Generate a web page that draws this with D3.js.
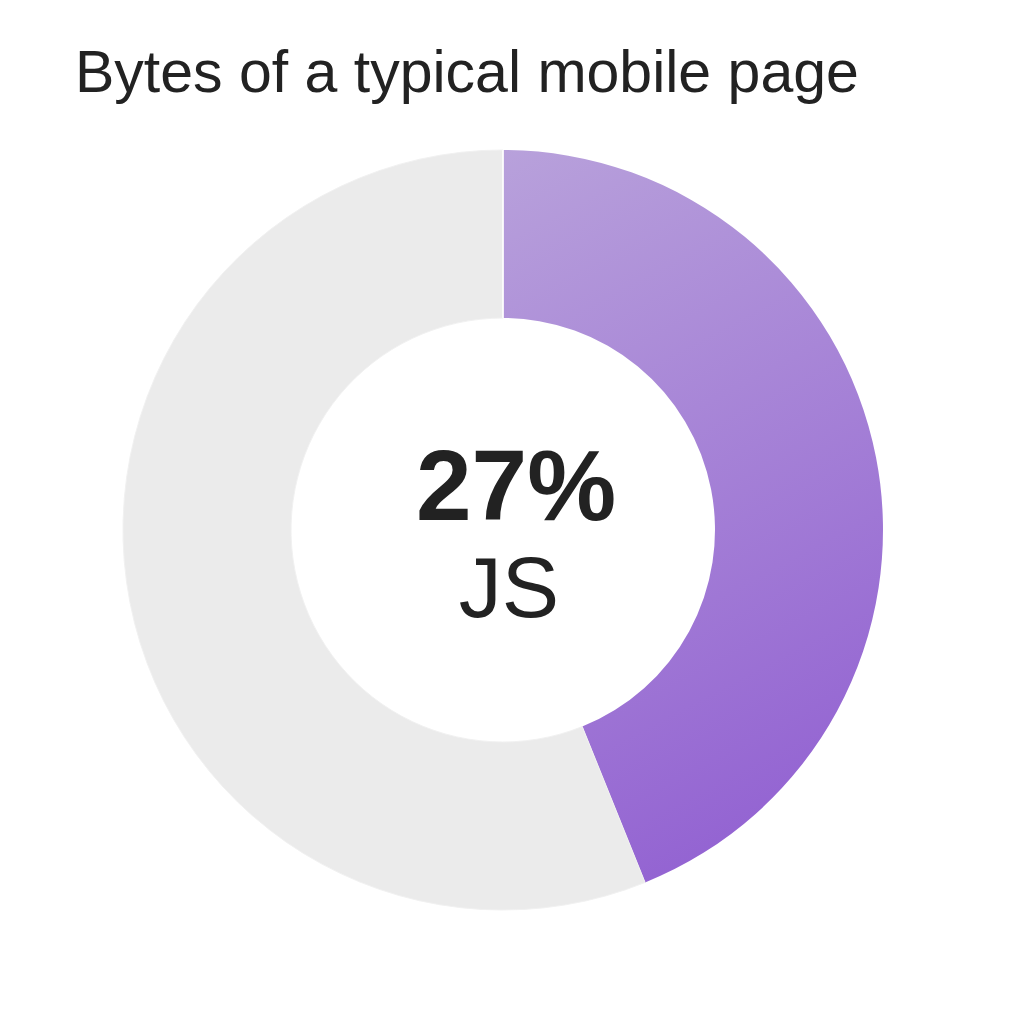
<!DOCTYPE html>
<html>
<head>
<meta charset="utf-8">
<script src="https://cdn.jsdelivr.net/npm/d3@7"></script>
<style>
  body { margin: 0; background: #fff; }
</style>
</head>
<body>
<script>
const W = 1024
const H = 1024

// data
const labels = ['JS', 'Other']
const shares = [43.9, 56.1]
const title = 'Bytes of a typical mobile page'
const bigLabel = '27%'
const subLabel = 'JS'

const cx = 503
const cy = 530
const outerR = 380
const innerR = 212

const svg = d3.select('body').append('svg')
  .attr('width', W)
  .attr('height', H)
  .style('font-family', '"Liberation Sans", Arial, sans-serif')

// gradient in the donut group's local coordinates
const defs = svg.append('defs')
const grad = defs.append('linearGradient')
  .attr('id', 'jsGrad')
  .attr('gradientUnits', 'userSpaceOnUse')
  .attr('x1', 0).attr('y1', -outerR)
  .attr('x2', outerR).attr('y2', 340)
grad.append('stop').attr('offset', 0).attr('stop-color', '#b8a1db')
grad.append('stop').attr('offset', 1).attr('stop-color', '#8f5cd1')

const pie = d3.pie().sort(null).value(d => d)
const arc = d3.arc().innerRadius(innerR).outerRadius(outerR)

const g = svg.append('g').attr('transform', `translate(${cx},${cy})`)

g.selectAll('path')
  .data(pie(shares))
  .join('path')
  .attr('d', arc)
  .attr('fill', (d, i) => i === 0 ? 'url(#jsGrad)' : '#ebebeb')
  .attr('stroke', (d, i) => i === 0 ? 'none' : '#f1f1f1')
  .attr('stroke-width', 1)

// thin white seam at 12 o'clock
g.append('line')
  .attr('x1', 0).attr('x2', 0)
  .attr('y1', -innerR).attr('y2', -outerR)
  .attr('stroke', '#fff')
  .attr('stroke-width', 1.5)

svg.append('text')
  .attr('x', 75)
  .attr('y', 92)
  .attr('fill', '#222')
  .style('font-size', '59px')
  .text(title)

svg.append('text')
  .attr('x', 516)
  .attr('y', 520)
  .attr('text-anchor', 'middle')
  .attr('fill', '#222')
  .style('font-size', '100px')
  .style('font-weight', 600)
  .text(bigLabel)

svg.append('text')
  .attr('x', 509)
  .attr('y', 617)
  .attr('text-anchor', 'middle')
  .attr('fill', '#222')
  .style('font-size', '86px')
  .text(subLabel)
</script>
</body>
</html>
